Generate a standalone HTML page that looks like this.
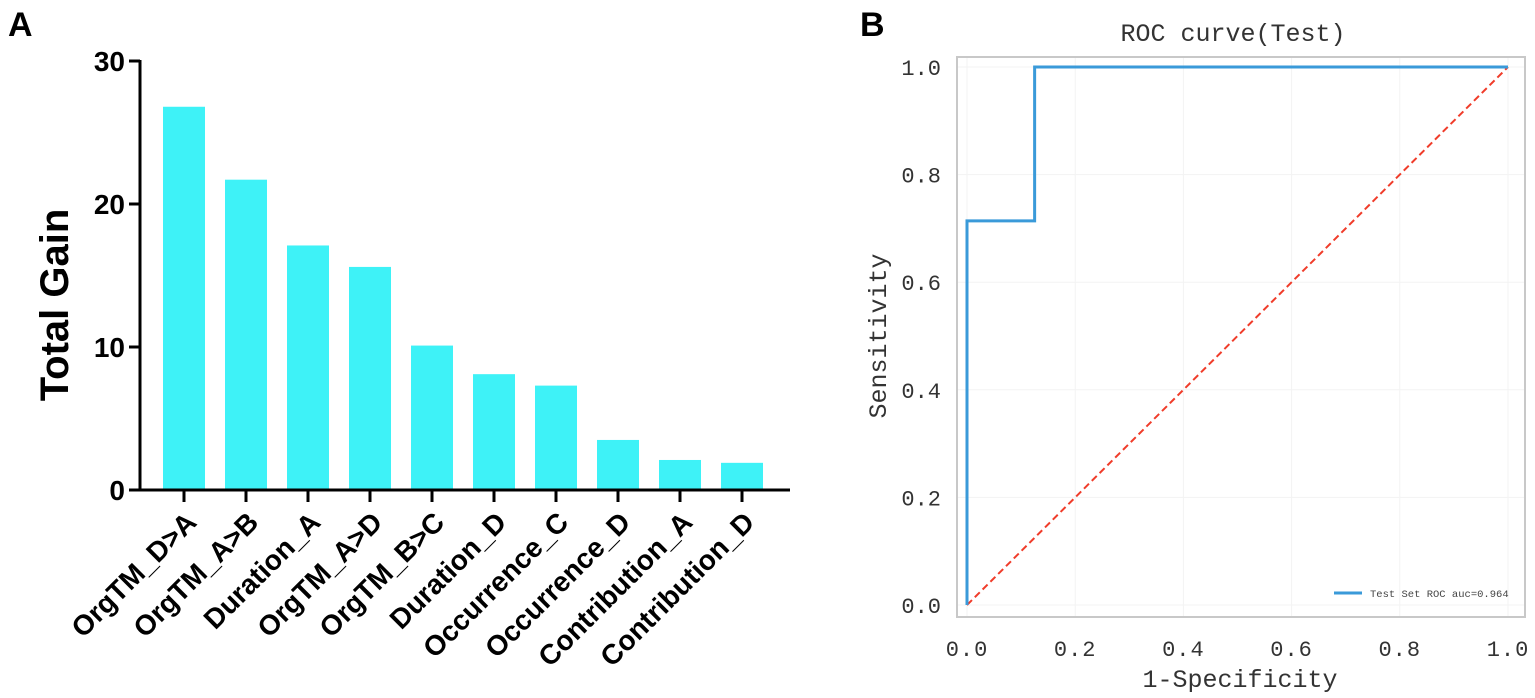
<!DOCTYPE html>
<html><head><meta charset="utf-8"><style>
html,body{margin:0;padding:0;background:#fff;}
svg{display:block;}
</style></head><body>
<svg id="fig" width="1535" height="698" xmlns="http://www.w3.org/2000/svg">
<text x="8" y="36" font-family="Liberation Sans, sans-serif" font-weight="bold" font-size="34">A</text>
<text x="860" y="36" font-family="Liberation Sans, sans-serif" font-weight="bold" font-size="34">B</text>
<g id="barchart"></g>
<g id="roc"></g>
</svg>
<script>
const categories=["OrgTM_D>A","OrgTM_A>B","Duration_A","OrgTM_A>D","OrgTM_B>C","Duration_D","Occurrence_C","Occurrence_D","Contribution_A","Contribution_D"];
const gains=[26.8,21.7,17.1,15.6,10.1,8.1,7.3,3.5,2.1,1.9];
const yTicks=[0,10,20,30];
const rocFpr=[0,0,0.125,0.125,1];
const rocTpr=[0,0.714,0.714,1,1];
const rocTicks=[0,0.2,0.4,0.6,0.8,1.0];
const aucLabel="Test Set ROC auc=0.964";

const NS="http://www.w3.org/2000/svg";
function mk(parent,tag,attrs,text){const e=document.createElementNS(NS,tag);for(const k in attrs)e.setAttribute(k,attrs[k]);if(text!==undefined)e.textContent=text;parent.appendChild(e);return e;}

const bc=document.getElementById('barchart');
const y0=490,y30=61,ax=140;
const yA=v=>y0-(v/30)*(y0-y30);
const xA=i=>184+i*62;
const bw=42;
gains.forEach((v,i)=>{
  const r=mk(bc,'rect',{x:xA(i)-bw/2,y:yA(v),width:bw,height:y0-yA(v),fill:'#3ef2f7'});
  
  
  const t=mk(bc,'line',{x1:xA(i),x2:xA(i),y1:y0,y2:y0+12,stroke:'#000','stroke-width':3});
  
  
  const l=mk(bc,'text',{x:0,y:0,transform:`translate(${xA(i)+14},${y0+34}) rotate(-45)`,'text-anchor':'end','font-family':'Liberation Sans, sans-serif','font-weight':'bold','font-size':28},categories[i]);
  
  
});
yTicks.forEach(v=>{
  const t=mk(bc,'line',{x1:ax-11,x2:ax,y1:yA(v),y2:yA(v),stroke:'#000','stroke-width':3});
  
  
  const l=mk(bc,'text',{x:ax-15,y:yA(v)+10,'text-anchor':'end','font-family':'Liberation Sans, sans-serif','font-weight':'bold','font-size':28},String(v));
  
  
});
const yax=mk(bc,'line',{x1:ax,x2:ax,y1:y30-1,y2:y0+1.5,stroke:'#000','stroke-width':3});


const xax=mk(bc,'line',{x1:ax-1.5,x2:790,y1:y0,y2:y0,stroke:'#000','stroke-width':3});


const yt=mk(bc,'text',{x:0,y:0,transform:'translate(68,305) rotate(-90)','text-anchor':'middle','font-family':'Liberation Sans, sans-serif','font-weight':'bold','font-size':40},'Total Gain');



const rc=document.getElementById('roc');
const px0=967,px1=1508,py0=605,py1=67;
const rx=v=>px0+v*(px1-px0);
const ry=v=>py0-v*(py0-py1);
const font='Liberation Mono, Noto Sans CJK SC, monospace';
const fmt=v=>v.toFixed(1);
rocTicks.forEach(v=>{
  const g1=mk(rc,'line',{x1:rx(v),x2:rx(v),y1:58,y2:616,stroke:'#f3f3f3','stroke-width':1});
  
  
  const g2=mk(rc,'line',{x1:958,x2:1524,y1:ry(v),y2:ry(v),stroke:'#f3f3f3','stroke-width':1});
  
  
  const xl=mk(rc,'text',{x:rx(v),y:656,'text-anchor':'middle','font-family':font,'font-size':22,fill:'#333','letter-spacing':'1'},fmt(v));
  
  
  const yl=mk(rc,'text',{x:941,y:ry(v)+8,'text-anchor':'end','font-family':font,'font-size':22,fill:'#333'},fmt(v));
  
  
});
const frame=mk(rc,'rect',{x:957,y:57,width:568,height:560,fill:'none',stroke:'#c8c8c8','stroke-width':2});


const diag=mk(rc,'line',{x1:rx(0),y1:ry(0),x2:rx(1),y2:ry(1),stroke:'#f03c2a','stroke-width':2,'stroke-dasharray':'7,4'});


const pts=rocFpr.map((f,i)=>rx(f)+','+ry(rocTpr[i])).join(' ');
const roc=mk(rc,'polyline',{points:pts,fill:'none',stroke:'#3a9ad9','stroke-width':3});


const ll=mk(rc,'line',{x1:1334,x2:1362,y1:593,y2:593,stroke:'#3a9ad9','stroke-width':3});


const lt=mk(rc,'text',{x:1370,y:597,'font-family':font,'font-size':10.5,fill:'#444'},aucLabel);


const ti=mk(rc,'text',{x:1233,y:41,'text-anchor':'middle','font-family':font,'font-size':25,fill:'#333'},'ROC curve(Test)');


const xt=mk(rc,'text',{x:1240,y:687,'text-anchor':'middle','font-family':font,'font-size':25,fill:'#333'},'1-Specificity');


const yt2=mk(rc,'text',{x:0,y:0,transform:'translate(886,336) rotate(-90)','text-anchor':'middle','font-family':font,'font-size':25,fill:'#333'},'Sensitivity');


</script>
</body></html>
